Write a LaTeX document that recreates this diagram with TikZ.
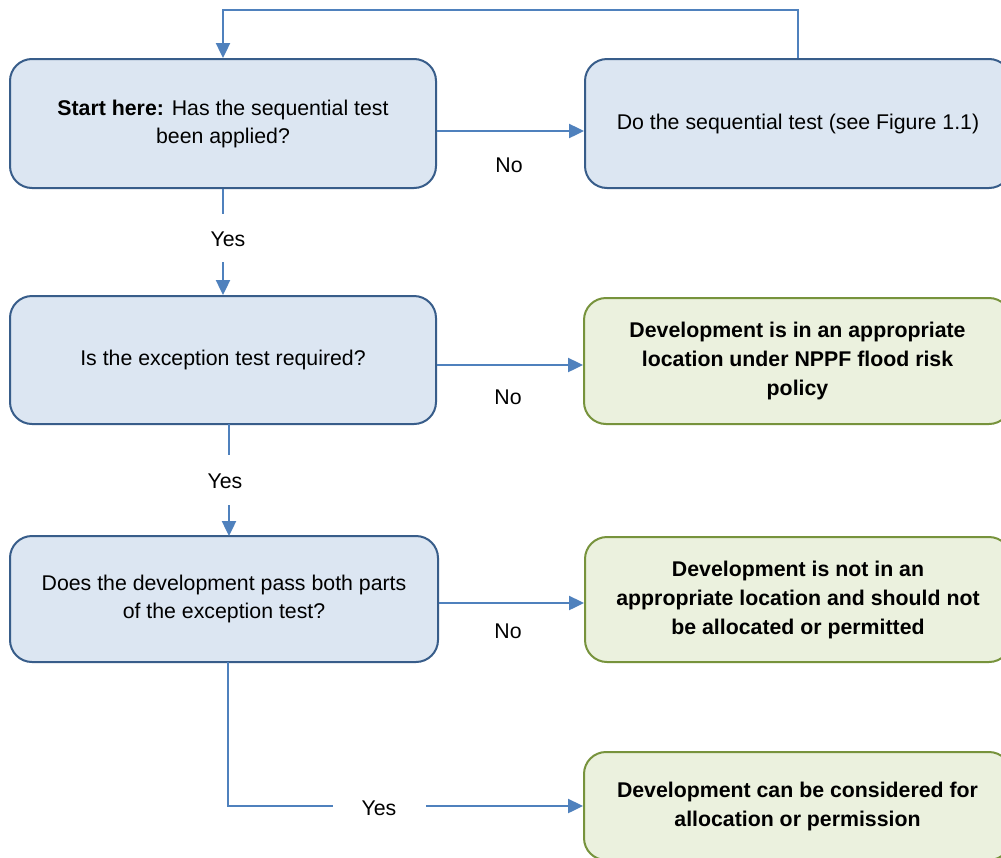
\documentclass[tikz,border=0pt]{standalone}
\usepackage{fontspec}
\setmainfont{Liberation Sans}
\usetikzlibrary{arrows.meta}
\definecolor{qfill}{RGB}{220,230,242}
\definecolor{qdraw}{RGB}{56,93,138}
\definecolor{gfill}{RGB}{235,241,222}
\definecolor{gdraw}{RGB}{119,147,60}
\definecolor{conn}{RGB}{79,129,189}
\begin{document}
\begin{tikzpicture}[x=1pt,y=-1pt,
  every node/.style={font=\fontsize{21.3}{28}\selectfont},
  qbox/.style={draw=qdraw,fill=qfill,line width=2pt,rounded corners=22pt,align=center,inner sep=0pt},
  gbox/.style={draw=gdraw,fill=gfill,line width=2pt,rounded corners=22pt,align=center,inner sep=0pt,font=\fontsize{21.3}{29}\selectfont\bfseries},
  conline/.style={draw=conn,line width=2.4pt},
  conarrow/.style={conline,-{Triangle[length=15pt,width=14pt]}},
  lbl/.style={inner sep=0pt}]
\useasboundingbox (0,0) rectangle (1001,857);
\fill[white] (0,0) rectangle (1001,857);
\begin{scope}
\clip (0,0) rectangle (1001,857);
% left question boxes
\node[qbox,minimum width=426pt,minimum height=129pt] (b1) at (223,123.5) {\textbf{Start here:} Has the sequential test\\been applied?};
\node[qbox,minimum width=426pt,minimum height=128pt] (b3) at (223,360) {Is the exception test required?};
\node[qbox,minimum width=428pt,minimum height=126pt] (b5) at (224,599) {Does the development pass both parts\\of the exception test?};
% right boxes
\node[qbox,minimum width=426pt,minimum height=129pt] (b2) at (798,123.5) {Do the sequential test (see Figure 1.1)};
\node[gbox,minimum width=427pt,minimum height=126pt] (b4) at (797.5,361) {Development is in an appropriate\\location under NPPF flood risk\\policy};
\node[gbox,minimum width=426pt,minimum height=125pt] (b6) at (798,599.5) {Development is not in an\\appropriate location and should not\\be allocated or permitted};
\node[gbox,minimum width=427pt,minimum height=108pt] (b7) at (797.5,806) {Development can be considered for\\allocation or permission};
\end{scope}
% connectors
\coordinate (t1) at (798,10);
\coordinate (t2) at (223,10);
\draw[conarrow] (b2.north) -- (t1) -- (t2) -- (b1.north);
\draw[conarrow] (b1.east |- 0,131) -- (b2.west |- 0,131);
\node[lbl] (n1) at (509,165) {No};
\draw[conline] (b1.south) -- (223,214);
\node[lbl] (y1) at (228,239) {Yes};
\draw[conarrow] (223,262) -- (b1.south |- b3.north);
\draw[conarrow] (b3.east |- 0,365) -- (b4.west |- 0,365);
\node[lbl] (n2) at (508,397) {No};
\draw[conline] (229,424) -- (229,455);
\node[lbl] (y2) at (225,481) {Yes};
\draw[conarrow] (229,505) -- (229,536);
\draw[conarrow] (b5.east |- 0,603) -- (b6.west |- 0,603);
\node[lbl] (n3) at (508,631) {No};
\coordinate (c1) at (228,806);
\draw[conline] (228,662) -- (c1) -- (333,806);
\node[lbl] (y3) at (379,808) {Yes};
\draw[conarrow] (426,806) -- (b7.west |- 0,806);
\end{tikzpicture}
\end{document}
